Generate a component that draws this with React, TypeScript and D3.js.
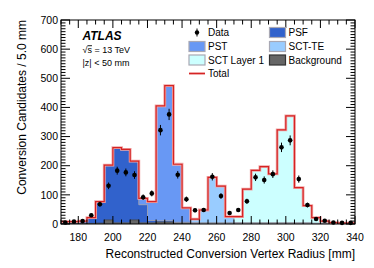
import React from "react";
import * as d3 from "d3";

// 5 mm bins, lower edges
const binLow = [170, 175, 180, 185, 190, 195, 200, 205, 210, 215, 220, 225, 230, 235, 240, 245, 250,
  255, 260, 265, 270, 275, 280, 285, 290, 295, 300, 305, 310, 315, 320, 325, 330, 335];
const binWidth = 5;

const dataCounts = [5, 8, 10, 30, 68, 131, 183, 177, 168, 92, 105, 322, 376, 169, 85, 47, 48,
  162, 96, 38, 48, 78, 160, 151, 171, 263, 287, 154, 65, 17, 11, 5, 4, 4];
const dataErrors = [2.2, 2.8, 3.2, 5.5, 8.2, 11.4, 13.5, 13.3, 13, 9.6, 10.2, 17.9, 19.4, 13, 9.2, 6.9, 6.9,
  12.7, 9.8, 6.2, 6.9, 8.8, 12.6, 12.3, 13.1, 16.2, 16.9, 12.4, 8.1, 4.1, 3.3, 2.2, 2, 2];

const background = [2, 2, 2, 2, 3, 14, 4, 4, 14, 4, 4, 7, 7, 4, 4, 3, 3,
  3, 3, 3, 3, 3, 3, 3, 3, 3, 3, 3, 3, 2, 2, 1, 1, 1];
const psf = [6, 6, 8, 20, 74, 188, 258, 252, 202, 62, 8, 4, 4, 2, 2, 0, 0,
  0, 0, 0, 0, 0, 0, 0, 0, 0, 0, 0, 0, 0, 0, 0, 0, 0];
const pst = [0, 0, 0, 0, 0, 0, 0, 0, 0, 22, 65, 394, 464, 199, 49, 2, 0,
  0, 0, 0, 0, 0, 0, 0, 0, 0, 0, 0, 0, 0, 0, 0, 0, 0];
const sctTE = [0, 0, 0, 0, 0, 0, 0, 0, 0, 0, 0, 0, 0, 0, 0, 12, 45,
  157, 127, 22, 2, 0, 0, 0, 0, 0, 0, 0, 0, 0, 0, 0, 0, 0];
const sctL1 = [0, 0, 0, 0, 0, 0, 0, 0, 0, 0, 0, 0, 0, 0, 0, 0, 0,
  0, 0, 0, 20, 117, 181, 194, 169, 320, 368, 122, 60, 20, 8, 4, 2, 2];

const xTicks = [180, 200, 220, 240, 260, 280, 300, 320, 340];
const yTicks = [0, 100, 200, 300, 400, 500, 600, 700];

const keys = ["Background", "PSF", "PST", "SCT-TE", "SCT Layer 1"];
const colors: Record<string, string> = {
  "Background": "#666666",
  "PSF": "#3162cc",
  "PST": "#6898f4",
  "SCT-TE": "#99ccff",
  "SCT Layer 1": "#ccffff",
};

const W = 374, H = 268;
const left = 61, right = 355, top = 20, bottom = 224;
const font = "'Liberation Sans', Arial, Helvetica, sans-serif";

export default function App() {
  const x = d3.scaleLinear().domain([170, 340]).range([left, right]);
  const y = d3.scaleLinear().domain([0, 700]).range([bottom, top]);

  const rows = binLow.map((b, i) => ({
    bin: b,
    "Background": background[i],
    "PSF": psf[i],
    "PST": pst[i],
    "SCT-TE": sctTE[i],
    "SCT Layer 1": sctL1[i],
  }));
  // closing edge for the step curve
  const last = rows[rows.length - 1];
  const rowsEdge = [...rows, { ...last, bin: last.bin + binWidth }];

  const stacked = d3.stack<any>().keys(keys)(rowsEdge);

  const area = d3.area<any>()
    .x(d => x(d.data.bin))
    .y0(d => y(d[0]))
    .y1(d => y(d[1]))
    .curve(d3.curveStepAfter);

  const topLine = d3.line<any>()
    .x(d => x(d.data.bin))
    .y(d => y(d[1]))
    .curve(d3.curveStepAfter);

  const totals = rowsEdge.map(r => keys.reduce((s, k) => s + (r as any)[k], 0));
  const totalLine = d3.line<number>()
    .x((d, i) => x(rowsEdge[i].bin))
    .y(d => y(d))
    .curve(d3.curveStepAfter)(totals);

  const xMinor = d3.range(170, 341, 5);
  const yMinor = d3.range(0, 701, 10);

  const legLeft = [
    { label: "Data", kind: "data" },
    { label: "PST", kind: "box" },
    { label: "SCT Layer 1", kind: "box" },
    { label: "Total", kind: "line" },
  ];
  const legRight = [
    { label: "PSF", kind: "box" },
    { label: "SCT-TE", kind: "box" },
    { label: "Background", kind: "box" },
  ];
  const rowY = [32.5, 46.5, 60, 73.5];

  const legendItem = (it: any, i: number, x0: number) => {
    const cy = rowY[i];
    return (
      <g key={it.label}>
        {it.kind === "data" && (
          <g>
            <line x1={x0 + 8} x2={x0 + 8} y1={cy - 4} y2={cy + 4} stroke="#000" strokeWidth={1} />
            <circle cx={x0 + 8} cy={cy} r={2.2} fill="#000" />
          </g>
        )}
        {it.kind === "box" && (
          <rect x={x0} y={cy - 5} width={16} height={10} fill={colors[it.label]}
            stroke={it.label === "Background" ? "#333" : "#a8a8b4"} strokeWidth={1.2} />
        )}
        {it.kind === "line" && (
          <g>
            <line x1={x0} x2={x0 + 16} y1={cy} y2={cy} stroke="#f2a6a6" strokeWidth={2.6} />
            <line x1={x0} x2={x0 + 16} y1={cy} y2={cy} stroke="#d42424" strokeWidth={1.2} />
          </g>
        )}
        <text x={x0 + 19} y={cy + 3.6} fontSize={10} fontFamily={font} fill="#000">{it.label}</text>
      </g>
    );
  };

  return (
    <svg width={W} height={H} style={{ position: "absolute", left: 0, top: 0, background: "#fff" }}>
      <defs>
        <clipPath id="plotclip">
          <rect x={left} y={top} width={right - left} height={bottom - top} />
        </clipPath>
      </defs>

      <g clipPath="url(#plotclip)">
        {stacked.map(s => (
          <path key={s.key} d={area(s) || ""} fill={colors[s.key]} />
        ))}
        {stacked.map(s => (
          <path key={s.key + "-l"} d={topLine(s) || ""} fill="none"
            stroke={s.key === "Background" ? "#444" : "#9a9aaa"} strokeWidth={0.8} />
        ))}
        <path d={totalLine || ""} fill="none" stroke="#f2a6a6" strokeWidth={2.8} />
        <path d={totalLine || ""} fill="none" stroke="#d42424" strokeWidth={1.2} />
      </g>

      {/* data points */}
      <g>
        {dataCounts.map((v, i) => {
          const cx = x(binLow[i] + binWidth / 2);
          return (
            <g key={i}>
              <line x1={cx} x2={cx} y1={y(v - dataErrors[i])} y2={y(v + dataErrors[i])}
                stroke="#000" strokeWidth={1} />
              <circle cx={cx} cy={y(v)} r={2.3} fill="#000" />
            </g>
          );
        })}
      </g>

      {/* frame */}
      <rect x={left} y={top} width={right - left} height={bottom - top} fill="none" stroke="#000" strokeWidth={1} />

      {/* x ticks */}
      {xMinor.map(t => {
        const major = xTicks.includes(t);
        const len = major ? 8 : 4.5;
        return (
          <g key={"xt" + t}>
            <line x1={x(t)} x2={x(t)} y1={bottom} y2={bottom - len} stroke="#000" />
            <line x1={x(t)} x2={x(t)} y1={top} y2={top + len} stroke="#000" />
          </g>
        );
      })}
      {xTicks.map(t => (
        <text key={"xl" + t} x={x(t)} y={241} textAnchor="middle" fontSize={10.5} fontFamily={font}>{t}</text>
      ))}

      {/* y ticks */}
      {yMinor.map(t => {
        const major = yTicks.includes(t);
        const len = major ? 9 : 4.5;
        return (
          <g key={"yt" + t}>
            <line x1={left} x2={left + len} y1={y(t)} y2={y(t)} stroke="#000" />
            <line x1={right} x2={right - len} y1={y(t)} y2={y(t)} stroke="#000" />
          </g>
        );
      })}
      {yTicks.map(t => (
        <text key={"yl" + t} x={58} y={y(t) + 3.7} textAnchor="end" fontSize={10.5} fontFamily={font}>{t}</text>
      ))}

      {/* axis titles */}
      <text x={right} y={258} textAnchor="end" fontSize={12} fontFamily={font}>
        Reconstructed Conversion Vertex Radius [mm]
      </text>
      <text transform={`translate(26,${top}) rotate(-90)`} textAnchor="end" fontSize={12} fontFamily={font}>
        Conversion Candidates / 5.0 mm
      </text>

      {/* ATLAS label */}
      <text x={82.5} y={39.5} fontSize={12} fontWeight="bold" fontStyle="italic" fontFamily={font}>ATLAS</text>
      <text x={82.5} y={53.3} fontSize={9} fontFamily={font}>
        √<tspan textDecoration="overline">s</tspan> = 13 TeV
      </text>
      <text x={82.5} y={66} fontSize={9} fontFamily={font}>|z| &lt; 50 mm</text>

      {/* legend */}
      {legLeft.map((it, i) => legendItem(it, i, 189))}
      {legRight.map((it, i) => legendItem(it, i, 269.5))}
    </svg>
  );
}
